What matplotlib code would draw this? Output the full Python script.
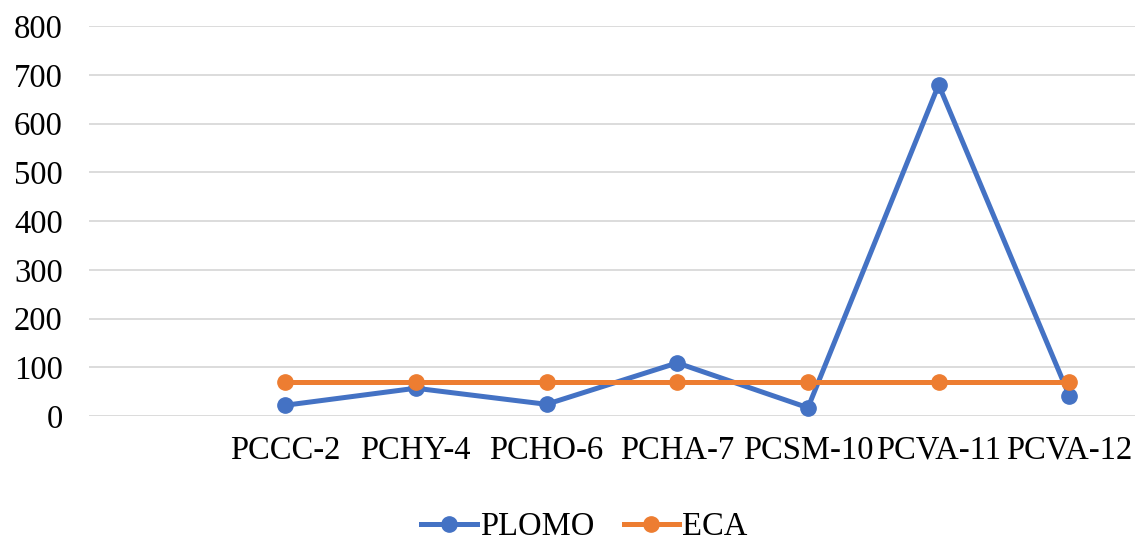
import matplotlib.pyplot as plt
import numpy as np

plt.rcParams['font.family'] = ['Liberation Serif', 'DejaVu Serif']

# first slot is an empty category, as in the source sheet
categories = ['', 'PCCC-2', 'PCHY-4', 'PCHO-6', 'PCHA-7', 'PCSM-10', 'PCVA-11', 'PCVA-12']
plomo = [22, 57, 24, 109, 17, 680, 41]
eca = [70, 70, 70, 70, 70, 70, 70]

blue = '#4472C4'
orange = '#ED7D31'
fs = 23.5

fig = plt.figure(figsize=(11.37, 5.45), dpi=100)
ax = fig.add_axes([0.0783, 0.2367, 0.9197, 0.715])

x = np.arange(1, len(categories))
ax.plot(x, plomo, color=blue, lw=3.6, marker='o', ms=11, label='PLOMO', zorder=3)
ax.plot(x, eca, color=orange, lw=3.6, marker='o', ms=11, label='ECA', zorder=4)

ax.set_xlim(-0.5, len(categories) - 0.5)
ax.set_ylim(0, 800)
ax.set_yticks(range(0, 801, 100))
ax.set_xticks(range(len(categories)))
ax.set_xticklabels(categories)

ax.grid(axis='y', color='#d9d9d9', lw=1.3)
ax.grid(axis='x', visible=False)
ax.set_axisbelow(True)
for s in ax.spines.values():
    s.set_visible(False)
ax.tick_params(axis='both', length=0, labelsize=fs)
ax.tick_params(axis='y', pad=19)
ax.tick_params(axis='x', pad=14)

fig.legend(loc='center', bbox_to_anchor=(0.514, 1 - 527 / 545), ncol=2,
           frameon=False, fontsize=fs, handlelength=1.7, handletextpad=0.1,
           columnspacing=0.9, borderpad=0.1)

fig.savefig('out.png', dpi=100)
